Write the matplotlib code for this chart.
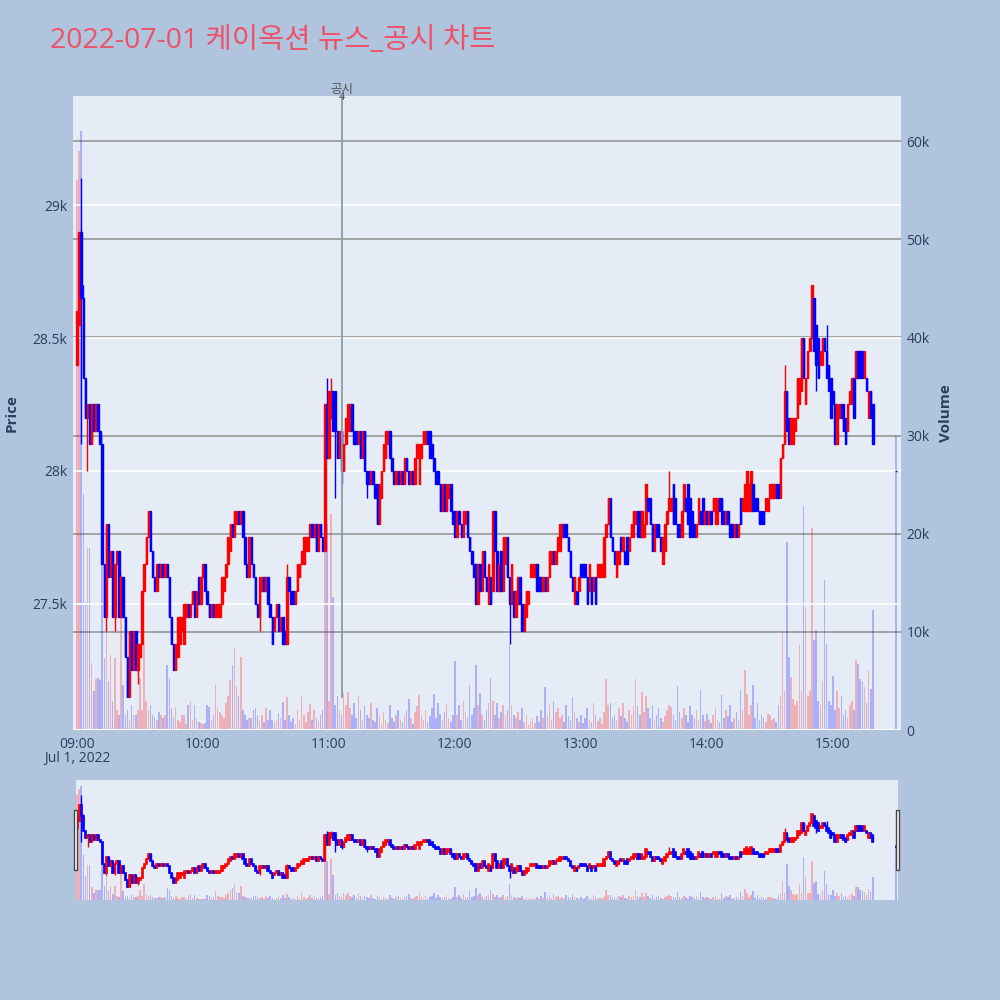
import matplotlib
matplotlib.use("Agg")
import matplotlib.pyplot as plt
import matplotlib.dates as mdates
from matplotlib.patches import Rectangle
import numpy as np
import pandas as pd

plt.rcParams['font.family'] = ['Open Sans', 'Noto Sans CJK KR', 'DejaVu Sans']

# ---------------- data ----------------
times = list(pd.date_range("2022-07-01 09:00", "2022-07-01 15:19", freq="min")) + [pd.Timestamp("2022-07-01 15:30")]

opens = [
    28400, 28550, 28900, 28650, 28350, 28200, 28250, 28100, 28250, 28150,
    28250, 28150, 28100, 27650, 27450, 27800, 27600, 27700, 27450, 27650,
    27700, 27450, 27600, 27450, 27300, 27150, 27400, 27250, 27400, 27250,
    27300, 27350, 27550, 27650, 27750, 27850, 27700, 27600, 27550, 27650,
    27600, 27650, 27600, 27650, 27600, 27450, 27350, 27250, 27300, 27350,
    27400, 27350, 27450, 27500, 27450, 27500, 27550, 27450, 27600, 27500,
    27600, 27650, 27550, 27500, 27450, 27500, 27450, 27450, 27450, 27500,
    27550, 27600, 27650, 27700, 27800, 27750, 27800, 27850, 27800, 27850,
    27750, 27650, 27600, 27750, 27650, 27600, 27500, 27450, 27550, 27600,
    27550, 27600, 27500, 27450, 27400, 27450, 27500, 27400, 27450, 27400,
    27350, 27600, 27550, 27550, 27500, 27550, 27600, 27650, 27650, 27700,
    27700, 27750, 27800, 27750, 27800, 27700, 27800, 27750, 27700, 28250,
    28050, 28200, 28300, 28300, 28150, 28050, 28150, 28000, 28100, 28150,
    28150, 28250, 28150, 28150, 28100, 28150, 28050, 28150, 28000, 28000,
    27950, 28000, 27950, 27950, 27800, 27900, 28000, 28050, 28100, 28150,
    28050, 28000, 27950, 28000, 27950, 28000, 27950, 28050, 28000, 27950,
    28000, 27950, 28050, 27950, 28050, 28100, 28100, 28150, 28150, 28100,
    28050, 28000, 28000, 27950, 27850, 27950, 27850, 27900, 27950, 27850,
    27850, 27750, 27850, 27800, 27750, 27800, 27850, 27750, 27700, 27650,
    27650, 27500, 27650, 27550, 27700, 27600, 27500, 27600, 27550, 27850,
    27700, 27550, 27700, 27550, 27650, 27750, 27600, 27500, 27550, 27450,
    27500, 27600, 27500, 27400, 27450, 27500, 27600, 27600, 27600, 27650,
    27600, 27600, 27550, 27600, 27550, 27600, 27650, 27700, 27650, 27700,
    27700, 27750, 27800, 27800, 27750, 27700, 27600, 27500, 27550, 27550,
    27650, 27650, 27650, 27600, 27550, 27600, 27550, 27600, 27600, 27600,
    27600, 27600, 27750, 27800, 27900, 27750, 27700, 27600, 27650, 27750,
    27700, 27700, 27750, 27700, 27750, 27750, 27800, 27850, 27850, 27750,
    27750, 27800, 27900, 27900, 27800, 27700, 27800, 27800, 27750, 27650,
    27700, 27800, 27850, 27850, 27950, 27900, 27800, 27800, 27750, 27850,
    27900, 27950, 27900, 27850, 27800, 27750, 27800, 27850, 27900, 27800,
    27850, 27800, 27850, 27850, 27800, 27800, 27900, 27900, 27850, 27800,
    27850, 27800, 27800, 27750, 27800, 27750, 27900, 27850, 27850, 27850,
    27850, 27850, 27950, 27900, 27900, 27850, 27850, 27850, 27850, 27850,
    27900, 27900, 27900, 27950, 27950, 27900, 28050, 28100, 28300, 28200,
    28100, 28100, 28150, 28200, 28250, 28300, 28500, 28250, 28350, 28450,
    28500, 28650, 28550, 28500, 28400, 28400, 28500, 28450, 28400, 28350,
    28300, 28250, 28100, 28200, 28250, 28250, 28200, 28150, 28250, 28250,
    28350, 28350, 28450, 28450, 28450, 28350, 28350, 28200, 28300, 28250,
    28000,
]

closes = [
    28600, 28900, 28650, 28350, 28200, 28250, 28100, 28250, 28150, 28250,
    28150, 28100, 27650, 27450, 27800, 27600, 27700, 27450, 27650, 27700,
    27450, 27600, 27450, 27300, 27150, 27400, 27250, 27400, 27250, 27350,
    27350, 27550, 27650, 27750, 27850, 27700, 27600, 27550, 27650, 27600,
    27650, 27600, 27650, 27600, 27450, 27350, 27250, 27350, 27450, 27450,
    27450, 27500, 27500, 27450, 27500, 27550, 27450, 27550, 27500, 27600,
    27650, 27550, 27500, 27450, 27500, 27450, 27500, 27500, 27500, 27600,
    27600, 27650, 27750, 27800, 27750, 27850, 27850, 27800, 27850, 27750,
    27650, 27600, 27750, 27650, 27600, 27500, 27450, 27600, 27600, 27550,
    27600, 27500, 27450, 27350, 27450, 27500, 27400, 27450, 27350, 27350,
    27600, 27550, 27500, 27500, 27550, 27650, 27650, 27700, 27750, 27750,
    27750, 27800, 27750, 27800, 27700, 27800, 27750, 27700, 28250, 28050,
    28300, 28300, 28150, 28150, 28050, 28150, 28000, 28100, 28200, 28250,
    28250, 28150, 28100, 28100, 28150, 28050, 28150, 28000, 27950, 27950,
    28000, 27950, 27900, 27800, 27950, 28000, 28100, 28150, 28150, 28050,
    28000, 27950, 28000, 27950, 28000, 27950, 28050, 28000, 27950, 28000,
    27950, 28050, 28100, 28100, 28100, 28150, 28150, 28100, 28050, 28050,
    28000, 27950, 27950, 27850, 27950, 27850, 27950, 27950, 27850, 27800,
    27750, 27850, 27800, 27750, 27850, 27850, 27750, 27700, 27650, 27600,
    27500, 27650, 27550, 27700, 27600, 27550, 27650, 27500, 27850, 27700,
    27550, 27650, 27550, 27750, 27750, 27600, 27500, 27650, 27450, 27550,
    27600, 27500, 27400, 27500, 27550, 27550, 27650, 27650, 27650, 27550,
    27550, 27550, 27600, 27550, 27600, 27700, 27700, 27650, 27700, 27750,
    27800, 27800, 27750, 27750, 27700, 27600, 27550, 27600, 27500, 27600,
    27600, 27600, 27600, 27500, 27650, 27500, 27600, 27500, 27650, 27650,
    27650, 27750, 27800, 27900, 27750, 27700, 27650, 27700, 27700, 27700,
    27750, 27650, 27650, 27750, 27800, 27850, 27850, 27750, 27750, 27850,
    27800, 27950, 27850, 27800, 27700, 27800, 27750, 27750, 27700, 27750,
    27800, 27850, 27900, 27900, 27800, 27800, 27750, 27750, 27850, 27950,
    27850, 27800, 27750, 27750, 27750, 27800, 27900, 27800, 27800, 27850,
    27800, 27850, 27800, 27900, 27900, 27900, 27850, 27800, 27800, 27850,
    27800, 27750, 27750, 27800, 27750, 27800, 27800, 27900, 27950, 28000,
    27950, 28000, 27850, 27850, 27850, 27800, 27800, 27800, 27900, 27900,
    27950, 27950, 27950, 27900, 27900, 28050, 28100, 28300, 28150, 28100,
    28200, 28200, 28200, 28350, 28350, 28500, 28350, 28350, 28450, 28500,
    28700, 28450, 28400, 28350, 28450, 28500, 28450, 28350, 28300, 28200,
    28250, 28100, 28250, 28250, 28200, 28150, 28100, 28250, 28300, 28350,
    28200, 28450, 28350, 28350, 28350, 28450, 28300, 28300, 28200, 28100,
    28000,
]

# candles whose wicks reach beyond the body
wick_minute = [2, 3, 5, 14, 18, 29, 87, 100, 119, 121, 123, 126, 138, 206, 282, 337, 352, 357]
wick_high = [29100, 28700, 28250, 27800, 27650, 27350, 27600, 27650, 28350, 28350, 28300, 28150, 28000, 27600, 28000, 28400, 28550, 28550]
wick_low = [28100, 28350, 28000, 27400, 27400, 27200, 27400, 27350, 28050, 28200, 27900, 27950, 27900, 27350, 27850, 28100, 28300, 28350]

# volume in thousands of shares
volume_k = [
    56, 59, 61, 24, 13, 18.5, 18.5, 6.8, 4, 5.2,
    5.3, 5.1, 30, 7.3, 20.8, 5, 7.6, 3, 7.3, 2,
    1.5, 16, 4.6, 1.5, 2, 1, 2.5, 1.5, 1.5, 2,
    5.3, 2, 8.8, 3, 2, 2.5, 1.5, 1.3, 1, 1.8,
    1.5, 1.2, 1.5, 6.6, 5.3, 2.2, 1.3, 2.3, 1, 0.8,
    1.5, 1.5, 0.6, 2.5, 3, 1, 2.5, 1.2, 0.8, 0.7,
    0.6, 0.7, 2.5, 2.3, 1, 1.5, 4.6, 2.2, 1.8, 1.5,
    1.2, 2.8, 3.5, 5.1, 6.6, 8.4, 4.5, 3.5, 7.4, 2,
    1.5, 1, 1.2, 1.2, 2, 2.2, 1.5, 1, 1.5, 0.8,
    2.2, 1, 2, 1, 0.8, 1, 1.7, 1.2, 2.9, 1,
    3.4, 1.5, 0.8, 1.2, 0.6, 2, 1, 3.6, 1.5, 0.8,
    1.8, 2.6, 1, 2, 1.2, 0.9, 1.5, 2, 22, 21,
    3, 22, 13.6, 2.5, 3.5, 2, 1.5, 3.8, 2.5, 3.9,
    2.2, 1.5, 2.8, 1.2, 3.5, 2, 1, 2.4, 1.5, 1.2,
    2.8, 1, 0.8, 2.2, 1.5, 0.6, 1.8, 1, 0.7, 2.5,
    1.2, 0.8, 1.5, 2, 1, 0.8, 1.5, 2, 3.2, 1.2,
    0.6, 1.8, 2.4, 3.6, 1.5, 1, 2, 0.8, 1.4, 2.2,
    3.7, 1.2, 2.8, 1.6, 1, 1.8, 2.6, 1.2, 0.8, 1.5,
    7, 1.5, 2.5, 1, 3, 1.8, 1.2, 4.6, 1.5, 2.2,
    6.6, 2.5, 3.8, 1.5, 1, 2, 2.8, 5.3, 3, 1.5,
    2.8, 1.2, 1.8, 2.5, 1.5, 2, 8.7, 2.5, 1.5, 1.2,
    1.8, 1, 2.2, 0.8, 1.5, 0.6, 0.9, 1.2, 0.7, 1.4,
    0.8, 2, 1.2, 4.4, 1.5, 2.5, 1, 3, 1.8, 2.2,
    1.2, 1.5, 0.8, 2.5, 1.4, 1, 3.4, 1.8, 1.2, 0.8,
    1.5, 0.7, 1.2, 2.2, 1, 0.8, 2.8, 1.5, 0.9, 1.2,
    0.6, 1.8, 5.2, 2.5, 2.8, 1.2, 1.5, 1, 2.2, 1.4,
    2.8, 1.2, 0.8, 2, 1.5, 2.4, 5.2, 2.4, 1.5, 3.9,
    1.8, 3.5, 2.2, 1.2, 2.5, 1, 1.5, 2.2, 1.2, 0.8,
    1.4, 2, 2.5, 2.3, 1.5, 1, 4.5, 1.8, 1.2, 2.2,
    1.5, 0.8, 2.4, 1.5, 1.2, 2, 1, 4.1, 1.5, 0.9,
    1.6, 1, 0.7, 1.5, 2.2, 1, 0.8, 3.6, 1.2, 2,
    1.4, 2.5, 0.8, 1.2, 1.8, 1, 4.1, 2, 6.1, 3.7,
    1.5, 2.5, 4.6, 1.2, 2.8, 1, 1.5, 1.2, 0.8, 1.6,
    1.5, 1, 1.2, 0.8, 2.5, 3.5, 10, 4, 19.2, 7.4,
    5.4, 3.2, 2.5, 3, 8.7, 4, 22.8, 12.5, 3.5, 4,
    20.6, 9.2, 10.2, 3, 2.5, 5, 15.3, 8.8, 3, 2.5,
    5.5, 2, 4, 2.2, 3.5, 1.5, 2, 1.2, 2.5, 3,
    2, 7.1, 6.7, 5.2, 5, 4.4, 2.8, 6.1, 4.2, 12.2,
    30,
]

price_ticks = [27500, 28000, 28500, 29000]
price_labels = ['27.5k', '28k', '28.5k', '29k']
vol_ticks = [0, 10, 20, 30, 40, 50, 60]
vol_labels = ['0', '10k', '20k', '30k', '40k', '50k', '60k']
event_time = pd.Timestamp("2022-07-01 11:06")
event_label = '공시'
event_count = '4'
title = '2022-07-01 케이옥션 뉴스_공시 차트'

# ---------------- derived arrays ----------------
x = mdates.date2num(times)
o = np.array(opens, dtype=float)
c = np.array(closes, dtype=float)
hi = np.maximum(o, c)
lo = np.minimum(o, c)
for m, wh, wl in zip(wick_minute, wick_high, wick_low):
    hi[m] = max(hi[m], wh)
    lo[m] = min(lo[m], wl)
up = c > o
cand_col = np.where(up, '#ff0000', '#0000ff')
vol_col = [(1, 0, 0, 0.25) if u else (0, 0, 1, 0.25) for u in up]
vol = np.array(volume_k)

one_min = 1.0 / 1440
t0 = mdates.date2num(pd.Timestamp("2022-07-01 09:00"))

BG = '#B0C4DE'
PLOT_BG = '#E5ECF6'
TXT = '#2a3f5f'

fig = plt.figure(figsize=(10, 10), dpi=100, facecolor=BG)

rect = [0.073, 0.27, 0.828, 0.634]
axv = fig.add_axes(rect, zorder=1)
axp = fig.add_axes(rect, zorder=2)
axv.set_facecolor(PLOT_BG)
axp.set_facecolor('none')

xlim = (t0 - 1.9 * one_min, t0 + 392.4 * one_min)

# volume (secondary axis, right)
axv.bar(x, vol, width=0.75 * one_min, color=vol_col, linewidth=0, zorder=2)
axv.set_ylim(0, 64.6)
axv.set_xlim(*xlim)
axv.yaxis.tick_right()
axv.set_yticks(vol_ticks)
axv.set_yticklabels(vol_labels)
axv.grid(axis='y', color='#a3a3a3', linewidth=1.4, zorder=0)
axv.set_axisbelow(True)
axv.axhline(0, color='white', linewidth=2.2, zorder=3)
axv.tick_params(axis='y', length=0, labelsize=10, labelcolor=TXT, pad=4)
axv.set_xticks([])
axv.yaxis.set_label_position('right')
axv.set_ylabel('Volume', fontsize=11, fontweight='bold', color=TXT)
axv.yaxis.set_label_coords(1.046, 0.5)
for s in axv.spines.values():
    s.set_visible(False)

# price (candles)
axp.set_xlim(*xlim)
axp.set_ylim(27026, 29410)
axp.set_yticks(price_ticks)
axp.set_yticklabels(price_labels)
axp.grid(axis='y', color='white', linewidth=1.2, zorder=0)
axp.set_axisbelow(True)
axp.vlines(x, lo, hi, colors=cand_col, linewidth=1.0, zorder=3)
axp.bar(x, np.abs(c - o), bottom=np.minimum(o, c), width=0.7 * one_min,
        color=cand_col, edgecolor=cand_col, linewidth=1.0, zorder=4)
axp.tick_params(axis='y', length=0, labelsize=10, labelcolor=TXT, pad=4)
axp.tick_params(axis='x', length=0, labelsize=10, labelcolor=TXT, pad=5)
axp.xaxis.set_major_locator(mdates.HourLocator())
axp.xaxis.set_major_formatter(mdates.DateFormatter('%H:%M'))
axp.set_ylabel('Price', fontsize=11, fontweight='bold', color=TXT)
axp.yaxis.set_label_coords(-0.066, 0.5)
for s in axp.spines.values():
    s.set_visible(False)
axp.text(t0, -0.033, 'Jul 1, 2022', transform=axp.get_xaxis_transform(),
         ha='center', va='top', fontsize=10, color=TXT)

# event line and annotation
xe = mdates.date2num(event_time)
axp.plot([xe, xe], [lo.min(), 29410], color='#7fa3a6', linewidth=1.3, zorder=5,
         clip_on=False)
xe_fig = 0.073 + 0.828 * (xe - xlim[0]) / (xlim[1] - xlim[0])
fig.text(xe_fig, 1 - 0.090, event_label,
         ha='center', va='center', fontsize=9, color='#555555',
         family=['Noto Sans CJK KR', 'DejaVu Sans'])
fig.text(xe_fig, 1 - 0.097, event_count,
         ha='center', va='center', fontsize=8, color='#555555')

# title
fig.text(0.05, 0.959, title, ha='left', va='center', fontsize=20.5, color='#EC5269',
         family=['Open Sans', 'Noto Sans CJK KR', 'DejaVu Sans'])

# ---------------- range slider ----------------
rs_rect = [0.076, 0.10, 0.822, 0.12]
rsv = fig.add_axes(rs_rect, zorder=1)
rsp = fig.add_axes(rs_rect, zorder=2)
rsv.set_facecolor(PLOT_BG)
rsp.set_facecolor('none')
rs_xlim = (t0 - 0.5 * one_min, t0 + 391 * one_min)
rsv.bar(x, vol, width=0.75 * one_min, color=vol_col, linewidth=0)
rsv.set_ylim(0, 64)
rsv.set_xlim(*rs_xlim)
rsp.vlines(x, lo, hi, colors=cand_col, linewidth=1.0)
rsp.bar(x, np.abs(c - o), bottom=np.minimum(o, c), width=0.6 * one_min,
        color=cand_col, edgecolor=cand_col, linewidth=1.2)
rsp.set_ylim(26880, 29420)
rsp.set_xlim(*rs_xlim)
for a in (rsv, rsp):
    a.set_xticks([])
    a.set_yticks([])
    for s in a.spines.values():
        s.set_visible(False)

# slider handles
for hx in (0.0735, 0.8955):
    fig.patches.append(Rectangle((hx, 0.130), 0.0035, 0.060, transform=fig.transFigure,
                                 facecolor='white', edgecolor='#444444', linewidth=1.0, zorder=5))

fig.savefig('out.png', dpi=100, facecolor=BG)
